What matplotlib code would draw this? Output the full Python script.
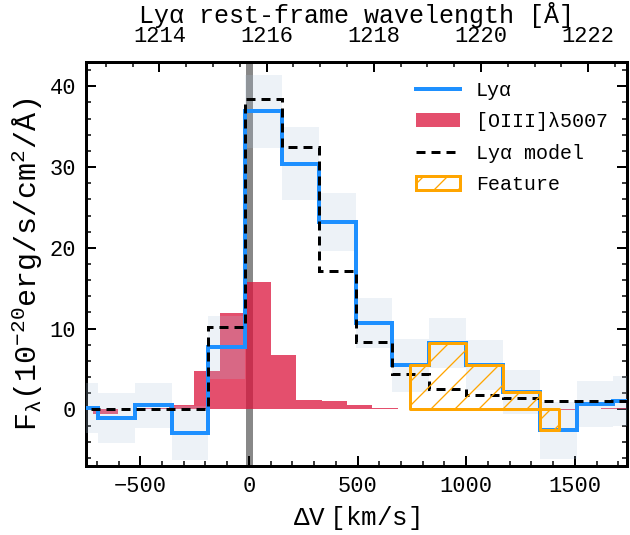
import numpy as np
import matplotlib
matplotlib.use('Agg')
import matplotlib.pyplot as plt
from matplotlib.ticker import MultipleLocator, FixedLocator
from matplotlib.lines import Line2D
from matplotlib.patches import Patch

plt.rcParams['font.family'] = 'Liberation Mono'
plt.rcParams['mathtext.fontset'] = 'custom'
plt.rcParams['mathtext.rm'] = 'Liberation Mono'
plt.rcParams['mathtext.it'] = 'Liberation Mono'
plt.rcParams['mathtext.bf'] = 'Liberation Mono:bold'
plt.rcParams['hatch.linewidth'] = 1.3

# Lya spectrum (velocity bins, km/s)
lya_edges = [-865, -695, -526, -356, -187, -17, 152, 321, 491, 660,
             830, 999, 1169, 1338, 1508, 1677, 1846]
lya_flux = [0.2, -1.1, 0.5, -2.9, 7.7, 36.9, 30.4, 23.2, 10.7, 5.45,
            8.2, 5.45, 2.15, -2.6, 0.7, 1.1]
lya_err = [3.1, 3.1, 2.8, 3.3, 3.9, 4.5, 4.5, 3.6, 3.1, 3.3,
           3.1, 3.1, 2.7, 3.5, 2.85, 3.1]
lya_model = [0.0, 0.0, 0.0, 0.0, 10.2, 38.4, 32.5, 17.1, 8.4, 4.4,
             2.55, 1.8, 1.45, 1.0, 1.0, 1.0]

# [OIII] 5007 profile
oiii_edges = [-836, -719, -602, -485, -368, -251, -134, -17, 100, 217, 334,
              451, 568, 685, 802, 919, 1036, 1153, 1270, 1387, 1504, 1621, 1738]
oiii_flux = [0.0, -0.6, 0.1, 0.2, 0.6, 4.7, 11.9, 15.8, 6.7, 1.2, 1.1,
             0.5, 0.15, 0.1, 0.15, 0.1, 0.1, 0.05, 0.0, -0.1, 0.0, 0.2]

# feature range (km/s)
feat_lo, feat_hi = 742, 1425

# top axis ticks (Angstrom)
wave_ticks = [1214, 1216, 1218, 1220, 1222]

lya_rest = 1215.67
c_kms = 299792.458


def v2lam(v):
    return lya_rest * (1 + np.asarray(v) / c_kms)


def lam2v(lam):
    return (np.asarray(lam) / lya_rest - 1) * c_kms


fig = plt.figure(figsize=(630 / 72, 535 / 72), dpi=72)
ax = fig.add_axes([86 / 630, 1 - 466 / 535, 541 / 630, 404 / 535])

edges = np.array(lya_edges, dtype=float)
flux = np.array(lya_flux)
err = np.array(lya_err)

ax.axvline(0, color='#888888', lw=7, zorder=1)
ax.stairs(oiii_flux, oiii_edges, baseline=0, fill=True, color='crimson',
          alpha=0.75, lw=0, zorder=2)
ax.stairs(flux + err, edges, baseline=flux - err, fill=True,
          color='lightsteelblue', alpha=0.22, lw=0, zorder=3)

# feature: Lya flux clipped to the feature range
inside = (edges > feat_lo) & (edges < feat_hi)
f_edges = np.concatenate([[feat_lo], edges[inside], [feat_hi]])
idx = np.searchsorted(edges, f_edges[:-1], side='right') - 1
f_vals = np.append(flux[idx], flux[idx][-1])
ax.fill_between(f_edges, 0, f_vals, step='post', facecolor='none',
                edgecolor='orange', hatch='/', lw=3, zorder=6)

ax.stairs(flux, edges, baseline=None, color='dodgerblue', lw=4, zorder=4)
ax.stairs(lya_model, edges, baseline=None, color='k', lw=3,
          ls=(0, (3, 2)), zorder=5)

ax.set_xlim(-750, 1740)
ax.set_ylim(-7, 43)
ax.xaxis.set_major_locator(MultipleLocator(500))
ax.xaxis.set_minor_locator(MultipleLocator(100))
ax.yaxis.set_major_locator(MultipleLocator(10))
ax.yaxis.set_minor_locator(MultipleLocator(2))
ax.tick_params(which='both', direction='in', right=True, top=False, width=2)
ax.tick_params(which='major', length=10, labelsize=22)
ax.tick_params(which='minor', length=5, width=1.5)
ax.tick_params(axis='x', pad=10)
ax.tick_params(axis='y', pad=10)
for s in ax.spines.values():
    s.set_linewidth(3)

ax.set_xlabel(r'$\Delta V\ [\mathrm{km/s}]$', fontsize=26, labelpad=7)
ax.set_ylabel(r'$\mathrm{F_{\lambda}(10^{-20}erg/s/cm^2/Å)}$', fontsize=30,
              labelpad=4)

sec = ax.secondary_xaxis('top', functions=(v2lam, lam2v))
sec.xaxis.set_major_locator(FixedLocator(wave_ticks))
sec.xaxis.set_minor_locator(MultipleLocator(0.5))
sec.tick_params(which='both', direction='in', width=2)
sec.tick_params(which='major', length=10, labelsize=22, pad=15)
sec.tick_params(which='minor', length=5, width=1.5)
sec.set_xlabel('Lyα rest-frame wavelength [Å]', fontsize=25, labelpad=3)

handles = [
    Line2D([], [], color='dodgerblue', lw=4),
    Patch(facecolor='crimson', alpha=0.75, lw=0),
    Line2D([], [], color='k', lw=3, ls=(0, (3, 2))),
    Patch(facecolor='none', edgecolor='orange', hatch='/', lw=3),
]
labels = ['Lyα', '[OIII]λ5007', 'Lyα model', 'Feature']
ax.legend(handles, labels, loc='upper right', frameon=False, fontsize=20,
          handlelength=2.2, handletextpad=0.8, labelspacing=0.62,
          borderaxespad=0.55)

fig.savefig('out.png', dpi=72)
